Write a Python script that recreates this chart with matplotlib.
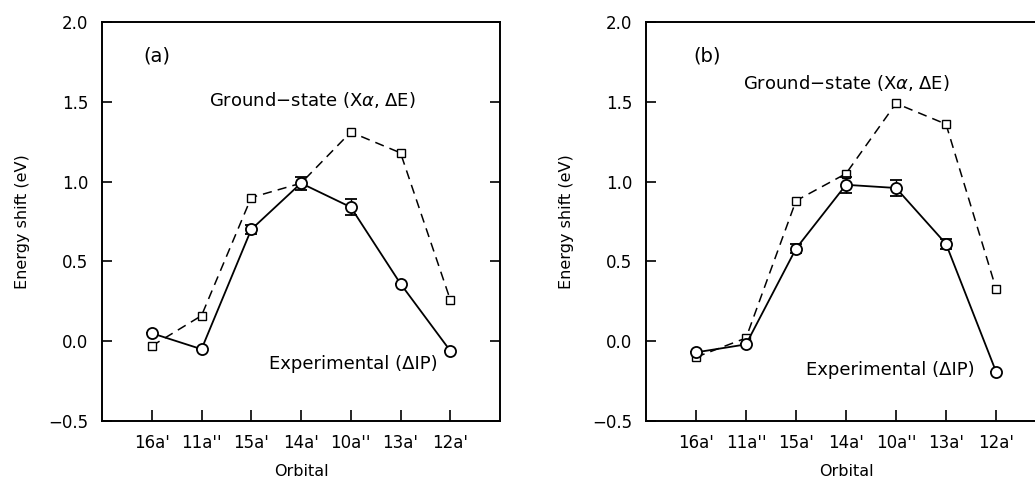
import matplotlib
matplotlib.use("Agg")
import matplotlib.pyplot as plt

orbitals = ["16a'", "11a''", "15a'", "14a'", "10a''", "13a'", "12a'"]
xpos = [1, 2, 3, 4, 5, 6, 7]

# panel (a)
ground_a = [-0.03, 0.16, 0.90, 0.99, 1.31, 1.18, 0.26]
exp_a = [0.05, -0.05, 0.70, 0.99, 0.84, 0.36, -0.06]
err_a = [0.0, 0.0, 0.03, 0.04, 0.05, 0.0, 0.0]

# panel (b)
ground_b = [-0.10, 0.02, 0.88, 1.05, 1.49, 1.36, 0.33]
exp_b = [-0.07, -0.02, 0.58, 0.98, 0.96, 0.61, -0.19]
err_b = [0.0, 0.0, 0.03, 0.05, 0.05, 0.03, 0.0]

plt.rcParams['font.family'] = ['DejaVu Sans']
plt.rcParams['font.size'] = 11

fig = plt.figure(figsize=(10.35, 4.8), dpi=100)
W, H = 1035.0, 480.0
ax_a = fig.add_axes([102 / W, 1 - 421 / H, 398 / W, 399 / H])
ax_b = fig.add_axes([646 / W, 1 - 421 / H, 400 / W, 399 / H])


def panel(ax, ground, exp, err, tag, tagpos, gpos, epos):
    ax.plot(xpos, ground, color="black", lw=1.1, ls=(0, (6, 4)),
            marker="s", ms=6, mfc="white", mec="black", mew=1.0, zorder=2)
    ax.errorbar(xpos, exp, yerr=err, color="black", lw=1.3, marker="o",
                ms=8, mfc="white", mec="black", mew=1.3, capsize=4,
                elinewidth=1.0, capthick=1.0, zorder=3)
    ax.set_xlim(0, 8)
    ax.set_ylim(-0.5, 2.0)
    ax.set_xticks(xpos)
    ax.set_xticklabels(orbitals)
    ax.set_yticks([-0.5, 0.0, 0.5, 1.0, 1.5, 2.0])
    ax.set_yticklabels(["\u22120.5", "0.0", "0.5", "1.0", "1.5", "2.0"])
    ax.tick_params(axis="y", direction="in", length=7, width=1.2,
                   right=True, pad=10, labelsize=12)
    ax.tick_params(axis="x", direction="in", length=8, width=1.2,
                   pad=9, labelsize=12)
    for s in ax.spines.values():
        s.set_linewidth(1.4)
    ax.set_xlabel("Orbital", fontsize=11.5, labelpad=9)
    ax.set_ylabel("Energy shift (eV)", fontsize=11.5, labelpad=13)
    ax.text(tagpos[0], tagpos[1], tag, fontsize=14, ha="center", va="center")
    ax.text(gpos[0], gpos[1], "Ground\u2212state (X$\\alpha$, \u0394E)",
            fontsize=13, ha="center", va="center")
    ax.text(epos[0], epos[1], "Experimental (\u0394IP)",
            fontsize=13, ha="center", va="center")


panel(ax_a, ground_a, exp_a, err_a, "(a)", (1.1, 1.79), (4.22, 1.51), (5.06, -0.14))
panel(ax_b, ground_b, exp_b, err_b, "(b)", (1.22, 1.79), (4.01, 1.62), (4.89, -0.18))

fig.savefig("out.png", dpi=100)
